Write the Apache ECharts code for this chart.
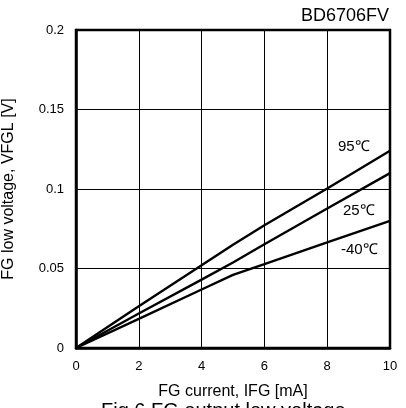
<!DOCTYPE html>
<html><head><meta charset="utf-8">
<script src="https://cdn.jsdelivr.net/npm/echarts@6/dist/echarts.min.js"></script>
<style>html,body{margin:0;padding:0;background:#fff}#c{width:406px;height:408px}</style>
</head><body><div id="c"></div>
<script>
const xValues = [0, 2, 4, 5, 6, 8, 10];
const v95 = [0, 0.0262, 0.052, 0.065, 0.0772, 0.1003, 0.124];
const v25 = [0, 0.0217, 0.0430, 0.0538, 0.0652, 0.0877, 0.110];
const vm40 = [0, 0.0183, 0.0368, 0.046, 0.0527, 0.0665, 0.080];
const seriesNames = ['95℃', '25℃', '-40℃'];
const xTicks = [0, 2, 4, 6, 8, 10];
const yTicks = [0, 0.05, 0.1, 0.15, 0.2];

const F = 'Liberation Sans, Arial, sans-serif';
function pairs(v){ return xValues.map((x,i)=>[x, v[i]]); }
const chart = echarts.init(document.getElementById('c'), null, {renderer:'canvas'});
const lineSeries = [v95, v25, vm40].map((v,i)=>({
  name: seriesNames[i], type:'line', data: pairs(v), symbol:'none',
  lineStyle:{color:'#000', width:2.4}, z:3
}));
chart.setOption({
  animation:false,
  backgroundColor:'#fff',
  grid:{left:76, right:16, top:30, bottom:60, containLabel:false, outerBoundsMode:'none',
    show:true, borderColor:'#000', borderWidth:2.5, backgroundColor:'transparent'},
  xAxis:{type:'value', min:0, max:10, interval:2,
    name:'FG current, IFG [mA]', nameLocation:'middle', nameGap:36,
    nameTextStyle:{fontFamily:F, fontSize:16, color:'#000', verticalAlign:'top'},
    axisLine:{show:true, lineStyle:{color:'#000', width:2.5}},
    axisTick:{show:true, inside:true, length:4, lineStyle:{color:'#000'}},
    axisLabel:{fontFamily:F, fontSize:13, color:'#000', margin:12, formatter:v=>xTicks.includes(v)?String(v):''},
    splitLine:{show:true, lineStyle:{color:'#000', width:1}}
  },
  yAxis:{type:'value', min:0, max:0.2, interval:0.05,
    name:'FG low voltage, VFGL [V]', nameLocation:'middle', nameGap:59,
    nameTextStyle:{fontFamily:F, fontSize:16, color:'#000'},
    axisLine:{show:true, lineStyle:{color:'#000', width:2.5}},
    axisTick:{show:true, inside:true, length:4, lineStyle:{color:'#000'}},
    axisLabel:{fontFamily:F, fontSize:13, color:'#000', margin:12,
      formatter:v=>{const t=yTicks.find(y=>Math.abs(y-v)<1e-9); return t===undefined?'':String(t);}},
    splitLine:{show:true, lineStyle:{color:'#000', width:1}}
  },
  series: lineSeries,
  graphic:[
    {type:'text', x:389, y:7, style:{text:'BD6706FV', font:'18px '+F, fill:'#000', align:'right'}},
    {type:'text', x:338, y:147, style:{text:seriesNames[0], font:'15px '+F, fill:'#000', verticalAlign:'middle'}},
    {type:'text', x:343, y:211, style:{text:seriesNames[1], font:'15px '+F, fill:'#000', verticalAlign:'middle'}},
    {type:'text', x:341, y:250, style:{text:seriesNames[2], font:'15px '+F, fill:'#000', verticalAlign:'middle'}},
    {type:'text', x:101, y:401, style:{text:'Fig.6 FG output low voltage', font:'20px '+F, fill:'#000'}}
  ]
});
</script></body></html>
